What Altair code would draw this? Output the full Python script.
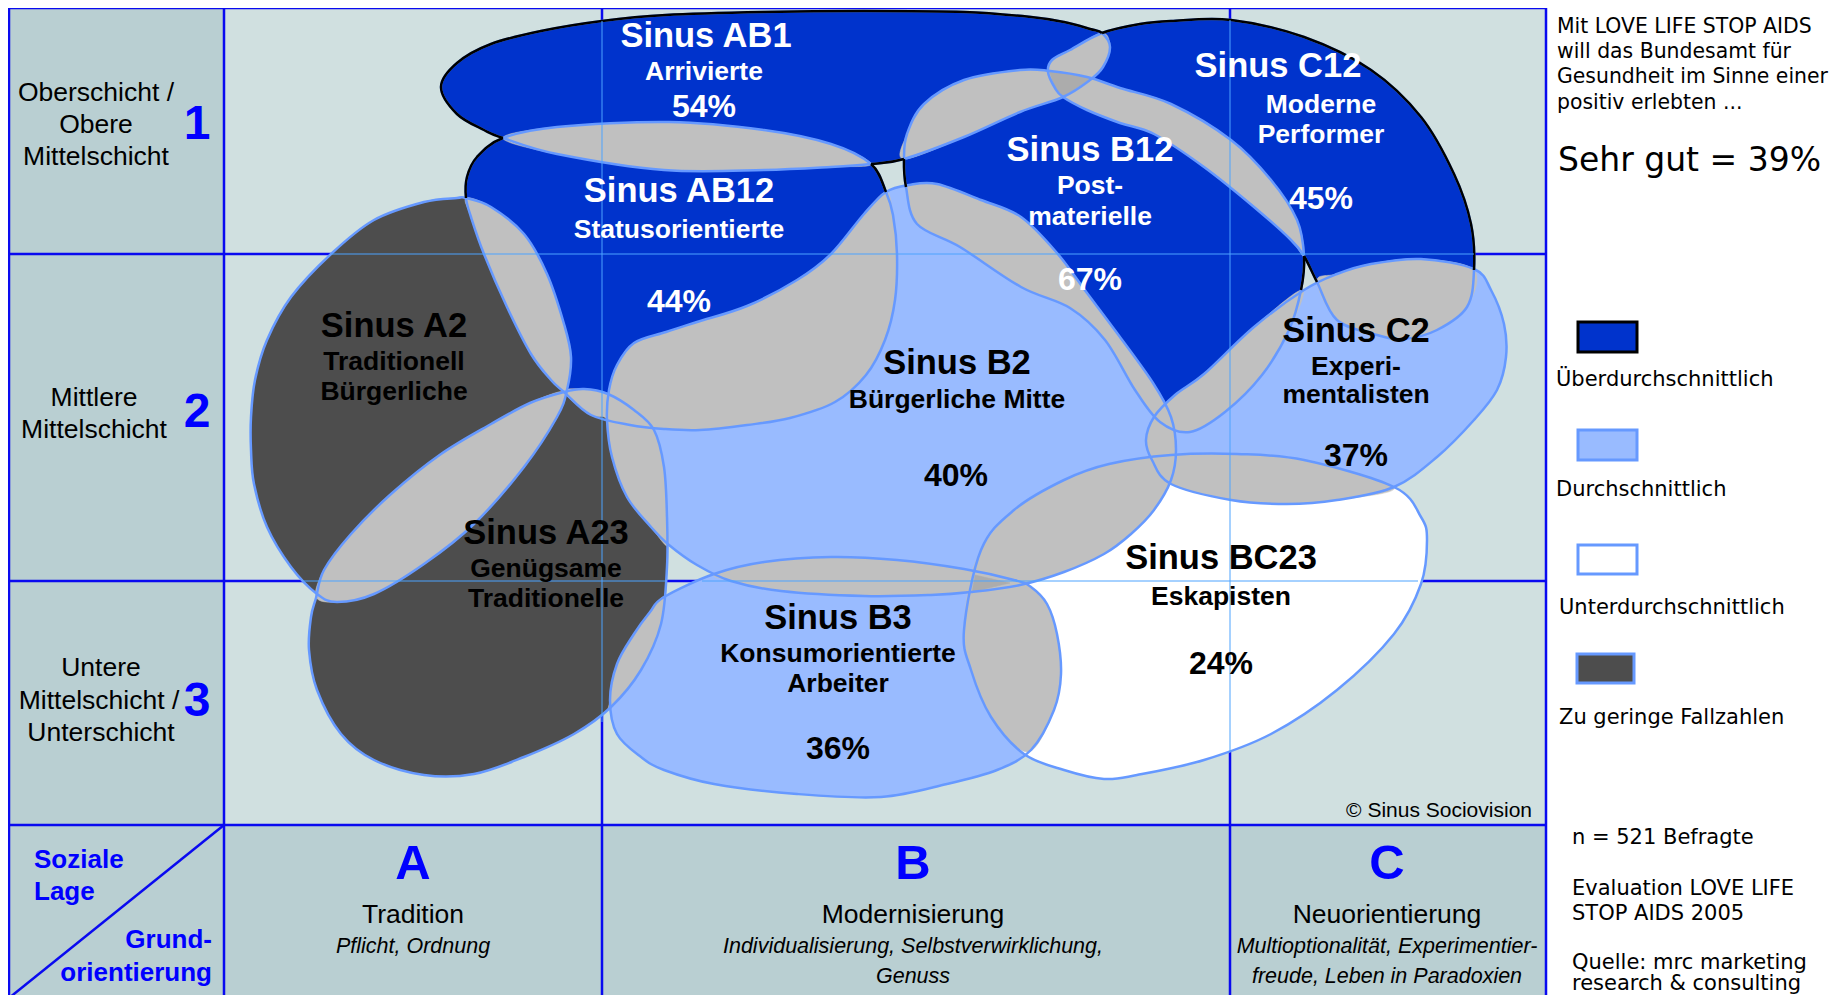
import altair as alt
import pandas as pd

W, H = 1828, 987          # whole chart = plot area (no axes)
OX, OY = 8, 8             # page margin -> data units are page pixels

# ---------------- milieu outlines (page-pixel points) ----------------
AB1 = [(441, 87), (457, 63), (491, 44), (541, 31), (602, 21), (666, 15), (764, 12), (864, 11),
       (964, 12), (1031, 17), (1064, 22), (1090, 29), (1102, 33), (1110, 47), (1103, 67),
       (1090, 80), (1063, 97), (1020, 112), (964, 137), (904, 159), (871, 164), (831, 167),
       (764, 170), (664, 170), (557, 154), (503, 138), (484, 130), (457, 114)]
AB12 = [(503, 138), (557, 127), (669, 122), (764, 130), (831, 144), (871, 164), (886, 192),
        (893, 215), (897, 254), (895, 300), (885, 340), (866, 375), (835, 402), (790, 418),
        (747, 425), (700, 430), (664, 429), (630, 425), (591, 415), (564, 392), (551, 380),
        (531, 354), (507, 307), (484, 254), (471, 217), (466, 198), (467, 177), (477, 157)]
B12 = [(904, 159), (907, 134), (924, 104), (964, 80), (1020, 70), (1050, 71), (1087, 77),
       (1120, 88), (1171, 104), (1231, 140), (1271, 180), (1297, 220), (1304, 256), (1301, 290),
       (1289, 330), (1262, 375), (1225, 412), (1190, 432), (1160, 422), (1135, 390), (1105, 340),
       (1070, 308), (1021, 287), (960, 247), (917, 224), (906, 187)]
C12 = [(1102, 33), (1140, 24), (1171, 21), (1231, 20), (1304, 37), (1371, 70), (1421, 117),
       (1454, 174), (1471, 224), (1474, 270), (1467, 307), (1437, 330), (1404, 339), (1377, 335),
       (1337, 320), (1317, 282), (1304, 256), (1291, 240), (1254, 207), (1204, 167), (1154, 134),
       (1120, 123), (1087, 110), (1063, 97), (1055, 88), (1048, 72), (1052, 60), (1070, 50)]
A2 = [(466, 198), (491, 207), (524, 234), (547, 274), (564, 324), (571, 357), (567, 390),
      (557, 417), (524, 467), (474, 524), (424, 564), (374, 594), (337, 602), (317, 594),
      (291, 567), (267, 527), (254, 484), (251, 450), (251, 417), (255, 380), (267, 340),
      (291, 297), (331, 254), (374, 220), (424, 202), (457, 198)]
A23 = [(564, 392), (584, 389), (608, 394), (634, 410), (654, 430), (664, 467), (667, 517),
       (667, 567), (661, 624), (641, 670), (611, 707), (574, 734), (524, 757), (474, 774),
       (424, 775), (374, 760), (341, 734), (317, 690), (309, 650), (311, 617), (316, 598),
       (324, 570), (351, 534), (391, 494), (441, 454), (491, 424), (530, 403)]
B2 = [(886, 192), (909, 185), (937, 184), (981, 200), (1021, 217), (1057, 253), (1087, 293),
      (1117, 333), (1153, 383), (1171, 417), (1176, 450), (1171, 480), (1154, 510), (1131, 534),
      (1104, 554), (1064, 572), (1020, 585), (971, 592), (931, 595), (864, 596), (781, 591),
      (731, 581), (697, 565), (669, 545), (651, 527), (627, 497), (612, 457), (607, 420),
      (609, 390), (617, 365), (634, 343), (666, 332), (697, 322), (747, 306), (797, 280),
      (831, 254), (864, 214)]
B3 = [(664, 597), (714, 574), (764, 562), (831, 557), (897, 560), (964, 569), (1014, 580),
      (1031, 587), (1047, 604), (1057, 634), (1061, 674), (1054, 710), (1031, 750), (997, 770),
      (947, 784), (881, 797), (797, 794), (714, 784), (664, 770), (641, 757), (617, 734),
      (610, 700), (617, 664), (634, 634), (650, 612)]
BC23 = [(964, 630), (981, 550), (1014, 510), (1064, 480), (1109, 464), (1171, 455), (1237, 454),
        (1304, 460), (1394, 487), (1421, 517), (1427, 540), (1421, 584), (1394, 634), (1337, 690),
        (1271, 734), (1204, 760), (1137, 775), (1104, 779), (1064, 770), (1024, 754), (991, 717),
        (971, 670)]
C2 = [(1146, 440), (1154, 417), (1175, 395), (1204, 374), (1254, 327), (1304, 290), (1337, 274),
      (1371, 264), (1421, 259), (1474, 269), (1491, 290), (1504, 324), (1506, 357), (1497, 390),
      (1474, 420), (1437, 457), (1394, 487), (1337, 500), (1287, 504), (1231, 500), (1171, 484),
      (1152, 460)]

DARK, LIGHT, WHITE, GREYD = "#0033cc", "#99bbff", "#ffffff", "#4d4d4d"
SHAPES = [("AB1", AB1, DARK), ("AB12", AB12, DARK), ("B12", B12, DARK), ("C12", C12, DARK),
          ("A2", A2, GREYD), ("A23", A23, GREYD), ("B2", B2, LIGHT), ("B3", B3, LIGHT),
          ("C2", C2, LIGHT), ("BC23", BC23, WHITE)]

# ---------------- overlap regions (grey) ----------------
OVERLAPS = {
    "AB1_AB12": [(503, 138), (557, 127), (669, 122), (764, 130), (831, 144), (871, 164), (831, 167),
                 (764, 170), (664, 170), (557, 154)],
    "AB1_B12": [(904, 159), (907, 134), (924, 104), (964, 80), (1020, 70), (1050, 71), (1087, 77),
                (1092, 78), (1063, 97), (1020, 112), (964, 137)],
    "AB1_C12": [(1102, 33), (1110, 47), (1103, 67), (1090, 80), (1063, 97), (1055, 88), (1048, 72),
                (1052, 60), (1070, 50)],
    "B12_C12": [(1049, 71), (1087, 77), (1120, 88), (1171, 104), (1231, 140), (1271, 180), (1297, 220),
                (1304, 256), (1291, 240), (1254, 207), (1204, 167), (1154, 134), (1120, 123),
                (1087, 110), (1063, 97), (1055, 88)],
    "A2_AB12": [(466, 198), (491, 207), (524, 234), (547, 274), (564, 324), (571, 357), (567, 390),
                (564, 392), (551, 380), (531, 354), (507, 307), (484, 254), (471, 217)],
    "AB12_B2": [(886, 192), (864, 214), (831, 254), (797, 280), (747, 306), (697, 322), (666, 332),
                (634, 343), (617, 365), (609, 390), (607, 420), (630, 425), (664, 429), (700, 430),
                (747, 425), (790, 418), (835, 402), (866, 375), (885, 340), (895, 300), (897, 254),
                (893, 215)],
    "B2_B12": [(906, 187), (909, 185), (937, 184), (981, 200), (1021, 217), (1057, 253), (1087, 293),
               (1117, 333), (1153, 383), (1171, 417), (1160, 422), (1135, 390), (1105, 340),
               (1070, 308), (1021, 287), (960, 247), (917, 224)],
    "A2_A23": [(564, 392), (557, 417), (524, 467), (474, 524), (424, 564), (374, 594), (337, 602),
               (316, 597), (324, 570), (351, 534), (391, 494), (441, 454), (491, 424), (530, 403)],
    "A23_B2": [(564, 392), (584, 389), (608, 394), (634, 410), (654, 430), (664, 467), (667, 517),
               (668, 546), (651, 527), (627, 497), (612, 457), (607, 420), (591, 415)],
    "A23_B3": [(664, 597), (661, 624), (641, 670), (611, 707), (610, 700), (617, 664), (634, 634),
               (650, 612)],
    "B2_B3": [(715, 574), (764, 562), (831, 557), (897, 560), (964, 569), (1010, 583), (971, 592),
              (931, 595), (864, 596), (781, 591), (731, 581)],
    "B2_BC23": [(972, 592), (981, 550), (1014, 510), (1064, 480), (1109, 464), (1175, 455), (1171, 480),
                (1154, 510), (1131, 534), (1104, 554), (1064, 572), (1020, 585)],
    "B3_BC23": [(975, 575), (1014, 580), (1031, 587), (1047, 604), (1057, 634), (1061, 674),
                (1054, 710), (1028, 752), (991, 717), (971, 670), (964, 630)],
    "B12_C2": [(1156, 416), (1175, 395), (1204, 374), (1254, 327), (1302, 290), (1289, 330),
               (1262, 375), (1225, 412), (1190, 432), (1160, 422)],
    "C12_C2": [(1317, 281), (1337, 274), (1371, 264), (1421, 259), (1474, 270), (1467, 307),
               (1437, 330), (1404, 339), (1377, 335), (1337, 320)],
    "C2_BC23": [(1152, 458), (1171, 455), (1237, 454), (1304, 460), (1394, 487), (1337, 500),
                (1287, 504), (1231, 500), (1171, 484)],
    "B2_C2": [(1154, 417), (1171, 417), (1176, 450), (1171, 482), (1152, 460), (1146, 440)],
}
TRIPLES = {
    "AB1_B12_C12": [(1049, 71), (1087, 77), (1092, 78), (1063, 97), (1055, 88)],
    "B2_B3_BC23": [(975, 575), (1010, 583), (972, 592)],
}

# outer (black) border pieces of the "überdurchschnittlich" milieus: (shape, first index, last index)
BLACK_ARCS = [("AB1", AB1, 25, 12), ("AB1n", AB1, 19, 20), ("AB12", AB12, 25, 0), ("AB12n", AB12, 5, 6),
              ("B12n", B12, 25, 0), ("B12r", B12, 12, 13), ("C12", C12, 0, 9), ("C12n", C12, 15, 16)]

# ---------------- grid ----------------
COLS = [9, 224, 602, 1230, 1546]
ROWS = [8, 254, 581, 825]
THIN_V = [(602, 21, 722), (1230, 20, 752)]
THIN_H = [(254, 331, 1474), (581, 303, 665), (581, 702, 1418)]

# ---------------- texts ----------------
NAMES = [("Sinus AB1", 706, 37, "white"), ("Sinus AB12", 679, 192, "white"),
         ("Sinus C12", 1278, 67, "white"), ("Sinus B12", 1090, 151, "white"),
         ("Sinus A2", 394, 327, "black"), ("Sinus B2", 957, 364, "black"),
         ("Sinus C2", 1356, 332, "black"), ("Sinus A23", 546, 534, "black"),
         ("Sinus BC23", 1221, 559, "black"), ("Sinus B3", 838, 619, "black")]
SUBS = [("Arrivierte", 704, 72, "white"), ("Statusorientierte", 679, 230, "white"),
        ("Moderne", 1321, 105, "white"), ("Performer", 1321, 135, "white"),
        ("Post-", 1090, 186, "white"), ("materielle", 1090, 217, "white"),
        ("Traditionell", 394, 362, "black"), ("Bürgerliche", 394, 392, "black"),
        ("Bürgerliche Mitte", 957, 400, "black"), ("Experi-", 1356, 367, "black"),
        ("mentalisten", 1356, 395, "black"), ("Genügsame", 546, 569, "black"),
        ("Traditionelle", 546, 599, "black"), ("Eskapisten", 1221, 597, "black"),
        ("Konsumorientierte", 838, 654, "black"), ("Arbeiter", 838, 684, "black")]
PCTS = [("54%", 704, 107, "white"), ("44%", 679, 302, "white"), ("45%", 1321, 199, "white"),
        ("67%", 1090, 280, "white"), ("40%", 956, 476, "black"), ("37%", 1356, 456, "black"),
        ("24%", 1221, 664, "black"), ("36%", 838, 749, "black")]
ROW_LABELS = [("Oberschicht /", 96, 93), ("Obere", 96, 125), ("Mittelschicht", 96, 157),
              ("Mittlere", 94, 398), ("Mittelschicht", 94, 430),
              ("Untere", 101, 668), ("Mittelschicht /", 99, 701), ("Unterschicht", 101, 733)]
ROW_NUMS = [("1", 197, 125), ("2", 197, 413), ("3", 197, 702)]
COL_LETTERS = [("A", 413, 864), ("B", 913, 864), ("C", 1387, 864)]
COL_TITLES = [("Tradition", 413, 915), ("Modernisierung", 913, 915), ("Neuorientierung", 1387, 915)]
COL_VALUES = [("Pflicht, Ordnung", 413, 947), ("Individualisierung, Selbstverwirklichung,", 913, 947),
              ("Genuss", 913, 977), ("Multioptionalität, Experimentier-", 1387, 947),
              ("freude, Leben in Paradoxien", 1387, 977)]
CORNER_LEFT = [("Soziale", 34, 860), ("Lage", 34, 892)]
CORNER_RIGHT = [("Grund-", 212, 940), ("orientierung", 212, 973)]
INTRO = [("Mit LOVE LIFE STOP AIDS", 1557, 27), ("will das Bundesamt für", 1557, 52),
         ("Gesundheit im Sinne einer", 1557, 77), ("positiv erlebten ...", 1557, 103)]
HEADLINE = [("Sehr gut = 39%", 1558, 161)]
LEGEND_LABELS = [("Überdurchschnittlich", 1556, 380), ("Durchschnittlich", 1556, 490),
                 ("Unterdurchschnittlich", 1559, 608), ("Zu geringe Fallzahlen", 1559, 718)]
LEGEND_BOXES = [(1578, 322, 1637, 352, DARK, "black"), (1578, 430, 1637, 460, LIGHT, "#6699ff"),
                (1578, 545, 1637, 574, WHITE, "#6699ff"), (1577, 654, 1634, 683, GREYD, "#6699ff")]
NOTES = [("n = 521 Befragte", 1572, 838), ("Evaluation LOVE LIFE", 1572, 889),
         ("STOP AIDS 2005", 1572, 914), ("Quelle: mrc marketing", 1572, 963),
         ("research & consulting", 1572, 984)]
COPYRIGHT = [("© Sinus Sociovision", 1532, 811)]

# ---------------- helpers ----------------
X = alt.X("x:Q", scale=alt.Scale(domain=[OX, OX + W], nice=False, zero=False), axis=None)
Y = alt.Y("y:Q", scale=alt.Scale(domain=[OY, OY + H], nice=False, zero=False, reverse=True), axis=None)


def frame(name, pts):
    return pd.DataFrame({"name": name, "i": list(range(len(pts))),
                         "x": [p[0] for p in pts], "y": [p[1] for p in pts]})


def arc_points(pts, i, j):
    n = len(pts)
    k, out = (i - 1) % n, []
    while True:
        out.append(pts[k])
        if k == (j + 1) % n:
            break
        k = (k + 1) % n
    return out


def texts(rows, size, weight="normal", style="normal", font="Liberation Sans", align="center",
          color="black"):
    df = pd.DataFrame(rows, columns=["t", "x", "y"] + (["c"] if len(rows[0]) == 4 else []))
    if "c" not in df:
        df["c"] = color
    return alt.Chart(df).mark_text(font=font, fontSize=size, fontWeight=weight, fontStyle=style,
                                   align=align, baseline="middle").encode(
        x=X, y=Y, text="t:N", color=alt.Color("c:N", scale=None))


layers = []

# backgrounds
bg = pd.DataFrame([(9, 8, 224, 1000, "#b9cfd2"), (224, 825, 1546, 1000, "#b9cfd2"),
                   (224, 8, 1546, 825, "#d0e0e0")], columns=["x", "y", "x2", "y2", "c"])
layers.append(alt.Chart(bg).mark_rect().encode(x=X, y=Y, x2="x2:Q", y2="y2:Q",
                                                 fill=alt.Fill("c:N", scale=None)))

# thick grid
thick = [(c, 8, c, 1000) for c in COLS] + [(9, r, 1546, r) for r in ROWS] + [(224, 825, 9, 998)]
layers.append(alt.Chart(pd.DataFrame(thick, columns=["x", "y", "x2", "y2"])).mark_rule(
    stroke="#0a0af0", strokeWidth=2.5).encode(x=X, y=Y, x2="x2:Q", y2="y2:Q"))

# milieu fills
for name, pts, col in SHAPES:
    layers.append(alt.Chart(frame(name, pts)).mark_line(
        interpolate="cardinal-closed", fill=col, stroke=col, strokeWidth=0.5).encode(
        x=X, y=Y, order="i:Q"))

# overlaps
ov = pd.concat([frame(k, v) for k, v in OVERLAPS.items()], ignore_index=True)
layers.append(alt.Chart(ov).mark_line(interpolate="cardinal-closed", fill="#c0c0c0",
                                      stroke="#c0c0c0", strokeWidth=0.5).encode(
    x=X, y=Y, order="i:Q", detail="name:N"))
tr = pd.concat([frame(k, v) for k, v in TRIPLES.items()], ignore_index=True)
layers.append(alt.Chart(tr).mark_line(interpolate="linear-closed", fill="#acacac",
                                      stroke="#acacac", strokeWidth=0.5).encode(
    x=X, y=Y, order="i:Q", detail="name:N"))

# outlines
ol = pd.concat([frame(n, p) for n, p, _ in SHAPES], ignore_index=True)
layers.append(alt.Chart(ol).mark_line(interpolate="cardinal-closed", stroke="#6699ff",
                                      strokeWidth=2.5).encode(x=X, y=Y, order="i:Q", detail="name:N"))
ba = pd.concat([frame(n, arc_points(p, i, j)) for n, p, i, j in BLACK_ARCS], ignore_index=True)
layers.append(alt.Chart(ba).mark_line(interpolate="cardinal-open", stroke="black",
                                      strokeWidth=2.5).encode(x=X, y=Y, order="i:Q", detail="name:N"))

# thin grid over the milieus
thin = [(x, a, x, b) for x, a, b in THIN_V] + [(a, y, b, y) for y, a, b in THIN_H]
layers.append(alt.Chart(pd.DataFrame(thin, columns=["x", "y", "x2", "y2"])).mark_rule(
    stroke="#4da3ff", strokeWidth=1).encode(x=X, y=Y, x2="x2:Q", y2="y2:Q"))

# legend boxes
lb = pd.DataFrame(LEGEND_BOXES, columns=["x", "y", "x2", "y2", "f", "s"])
layers.append(alt.Chart(lb).mark_rect(strokeWidth=3).encode(
    x=X, y=Y, x2="x2:Q", y2="y2:Q", fill=alt.Fill("f:N", scale=None),
    stroke=alt.Stroke("s:N", scale=None)))

# texts
layers += [
    texts(NAMES, 34.5, weight="bold"),
    texts(SUBS, 26.5, weight="bold"),
    texts(PCTS, 32, weight="bold"),
    texts(ROW_LABELS, 26.5),
    texts(ROW_NUMS, 48, weight="bold", color="#0000ff"),
    texts(COL_LETTERS, 49, weight="bold", color="#0000ff"),
    texts(COL_TITLES, 26.5),
    texts(COL_VALUES, 21.5, style="italic"),
    texts(CORNER_LEFT, 26, weight="bold", align="left", color="#0000ff"),
    texts(CORNER_RIGHT, 26, weight="bold", align="right", color="#0000ff"),
    texts(COPYRIGHT, 21, align="right"),
    texts(INTRO, 20.4, font="DejaVu Sans", align="left"),
    texts(HEADLINE, 33, font="DejaVu Sans", align="left"),
    texts(LEGEND_LABELS, 21, font="DejaVu Sans", align="left"),
    texts(NOTES, 21, font="DejaVu Sans", align="left"),
]

chart = alt.layer(*layers).properties(
    width=W, height=H, padding=0, autosize=alt.AutoSizeParams(type="none"), background="white"
).configure_view(strokeWidth=0)

chart.save("out.html", embed_options={"renderer": "svg", "actions": False})
